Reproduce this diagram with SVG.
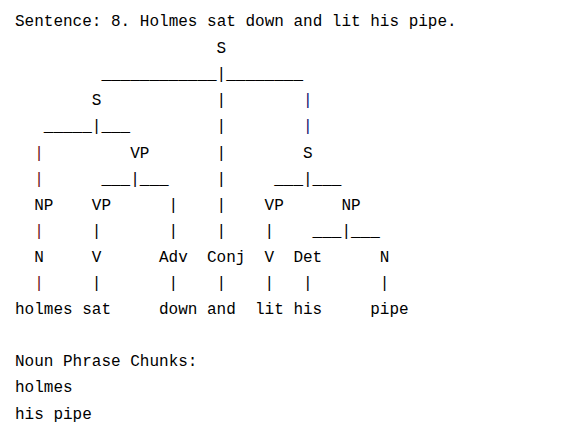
<svg xmlns="http://www.w3.org/2000/svg" width="578" height="442" viewBox="0 0 578 442">
<style>
text{font-family:"Liberation Mono","DejaVu Sans Mono",monospace;font-size:16px;fill:#000;white-space:pre}
.r{fill:#6a1010}
.b{fill:#10106a}
</style>
<rect width="578" height="442" fill="#fff"/>
<g id="header"><text x="15" y="25.5">Sentence: 8. Holmes sat down and lit his pipe.</text></g>
<g transform="translate(0,1.5)">
<g id="connectors">
<text x="101.4" y="77.7">____________|________</text>
<text x="216.6" y="103.8">|</text><text class="b" x="303" y="103.8">|</text>
<text x="43.8" y="129.9">_____|___</text><text x="216.6" y="129.9">|</text><text class="b" x="303" y="129.9">|</text>
<text class="r" x="34.2" y="156">|</text><text x="216.6" y="156">|</text>
<text class="r" x="34.2" y="182.1">|</text><text x="101.4" y="182.1">___|___</text><text x="216.6" y="182.1">|</text><text x="274.2" y="182.1">___|___</text>
<text x="168.6" y="208.2">|</text><text x="216.6" y="208.2">|</text>
<text class="r" x="34.2" y="234.3">|</text><text x="91.8" y="234.3">|</text><text x="168.6" y="234.3">|</text><text x="216.6" y="234.3">|</text><text x="264.6" y="234.3">|</text><text x="312.6" y="234.3">___|___</text>
<text class="r" x="34.2" y="286.5">|</text><text x="91.8" y="286.5">|</text><text x="168.6" y="286.5">|</text><text x="216.6" y="286.5">|</text><text x="264.6" y="286.5">|</text><text x="303" y="286.5">|</text><text x="379.8" y="286.5">|</text>
</g>
<g id="n-S-root"><text x="216.6" y="51.6">S</text></g>
<g id="n-S-left"><text x="91.8" y="103.8">S</text></g>
<g id="n-VP-1"><text x="130.2" y="156">VP</text></g>
<g id="n-S-right"><text x="303" y="156">S</text></g>
<g id="n-NP-1"><text x="34.2" y="208.2">NP</text></g>
<g id="n-VP-2"><text x="91.8" y="208.2">VP</text></g>
<g id="n-VP-3"><text x="264.6" y="208.2">VP</text></g>
<g id="n-NP-2"><text x="341.4" y="208.2">NP</text></g>
<g id="n-N-1"><text x="34.2" y="260.4">N</text></g>
<g id="n-V-1"><text x="91.8" y="260.4">V</text></g>
<g id="n-Adv"><text x="159" y="260.4">Adv</text></g>
<g id="n-Conj"><text x="207" y="260.4">Conj</text></g>
<g id="n-V-2"><text x="264.6" y="260.4">V</text></g>
<g id="n-Det"><text x="293.4" y="260.4">Det</text></g>
<g id="n-N-2"><text x="379.8" y="260.4">N</text></g>
<g id="w-holmes"><text x="15" y="312.6">holmes</text></g>
<g id="w-sat"><text x="82.2" y="312.6">sat</text></g>
<g id="w-down"><text x="159" y="312.6">down</text></g>
<g id="w-and"><text x="207" y="312.6">and</text></g>
<g id="w-lit"><text x="255" y="312.6">lit</text></g>
<g id="w-his"><text x="293.4" y="312.6">his</text></g>
<g id="w-pipe"><text x="370.2" y="312.6">pipe</text></g>
<g id="chunks">
<text x="15" y="364.8">Noun Phrase Chunks:</text>
<text x="15" y="390.9">holmes</text>
<text x="15" y="417">his pipe</text>
</g>
</g>
</svg>
